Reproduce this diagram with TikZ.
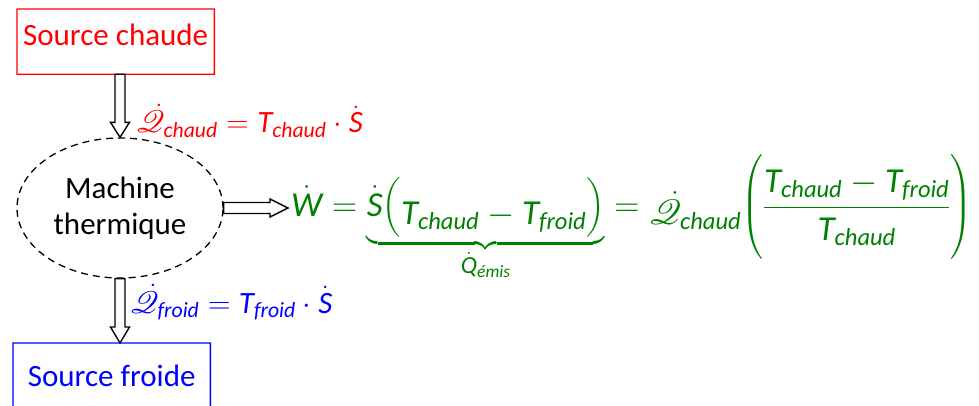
\RequirePackage{fix-cm}
\documentclass[tikz,border=0pt]{standalone}
\usepackage{amsmath}
\DeclareFontFamily{U}{rsfs}{\skewchar\font127 }
\DeclareFontShape{U}{rsfs}{m}{n}{<-6> rsfs5 <6-8> rsfs7 <8-> rsfs10}{}
\usepackage{mathrsfs}
\usepackage{fontspec}
\setmainfont{Carlito}
\usetikzlibrary{calc,shapes.geometric}
\definecolor{eqgreen}{RGB}{0,128,0}
\definecolor{hotred}{RGB}{255,0,0}
\definecolor{coldblue}{RGB}{0,0,255}
\newcommand\mi[1]{\text{\itshape #1}}
\newcommand\framefill[2]{% #1 colour, #2 node name
  \fill[#1, even odd rule] ($(#2.north west)+(-0.7,-0.7)$) rectangle ($(#2.south east)+(0.7,0.7)$)
    ($(#2.north west)+(0.7,0.7)$) rectangle ($(#2.south east)+(-0.7,-0.7)$);}
\tikzset{
  bigfont/.style={font=\fontsize{31}{36}\selectfont},
  eqfont/.style={font=\fontsize{35}{42}\selectfont},
  srcbox/.style={line width=1.3pt, bigfont, inner xsep=0pt, inner ysep=0pt, minimum width=196pt, anchor=north west},
  harrow/.style={draw=black, fill=white, line width=1.4pt, line join=miter},
  lbl/.style={bigfont, inner sep=0pt, anchor=base west}
}
\begin{document}
\begin{tikzpicture}[x=1pt,y=-1pt]
\useasboundingbox (0,0) rectangle (979,406);
\node[srcbox, text=hotred, text height=36pt, text depth=28pt] (sc) at (17,9) {Source chaude};
\framefill{hotred}{sc}
\node[ellipse, draw=black, line width=1.3pt, dash pattern=on 7pt off 5pt, minimum width=206pt, minimum height=140pt, inner sep=0pt, align=center, bigfont] (mt) at (120,208) {Machine\\thermique};
\node[srcbox, text=coldblue, text height=43pt, text depth=22pt] (sf) at (13,343) {Source froide};
\framefill{coldblue}{sf}
% hollow arrows
\draw[harrow] ($(sc.south -| mt.north)+(-5,0)$) -- ($(mt.north)+(-5,-15)$) -- ($(mt.north)+(-9.5,-15)$) -- (mt.north) -- ($(mt.north)+(9.5,-15)$) -- ($(mt.north)+(5,-15)$) -- ($(sc.south -| mt.north)+(5,0)$) -- cycle;
\draw[harrow] ($(mt.south)+(-5,0)$) -- ($(sf.north -| mt.south)+(-5,-16)$) -- ($(sf.north -| mt.south)+(-9.5,-16)$) -- (sf.north -| mt.south) -- ($(sf.north -| mt.south)+(9.5,-16)$) -- ($(sf.north -| mt.south)+(5,-16)$) -- ($(mt.south)+(5,0)$) -- cycle;
% labels
\node[lbl, text=hotred] (qc) at (136,133) {$\dot{\mathscr{Q}}_{\mi{chaud}} = \mi{T}_{\mi{chaud}} \cdot \dot{\mi{S}}$};
\node[lbl, text=coldblue] (qf) at (130,313) {$\dot{\mathscr{Q}}_{\mi{froid}} = \mi{T}_{\mi{froid}} \cdot \dot{\mi{S}}$};
\node[lbl, eqfont, text=eqgreen, inner xsep=3pt] (eq) at (288,216) {$\dot{\mi{W}} = \underbrace{\dot{\mi{S}}\Bigl(\raisebox{-8pt}{$\mi{T}_{\mi{chaud}} - \mi{T}_{\mi{froid}}$}\Bigr)}_{\rule{0pt}{22pt}\dot{\mi{Q}}_{\mi{émis}}} = \raisebox{-8pt}{$\dot{\mathscr{Q}}_{\mi{chaud}}$}\Biggl(\dfrac{\mi{T}_{\mi{chaud}} - \mi{T}_{\mi{froid}}}{\rule{0pt}{28pt}\mi{T}_{\mi{chaud}}}\Biggr)$};
\coordinate (wt) at (mt.east -| eq.west);
\draw[harrow] ($(mt.east)+(0,-5.5)$) -- ($(wt)+(-18,-5.5)$) -- ($(wt)+(-18,-9)$) -- (wt) -- ($(wt)+(-18,9)$) -- ($(wt)+(-18,5.5)$) -- ($(mt.east)+(0,5.5)$) -- cycle;
\end{tikzpicture}
\end{document}
